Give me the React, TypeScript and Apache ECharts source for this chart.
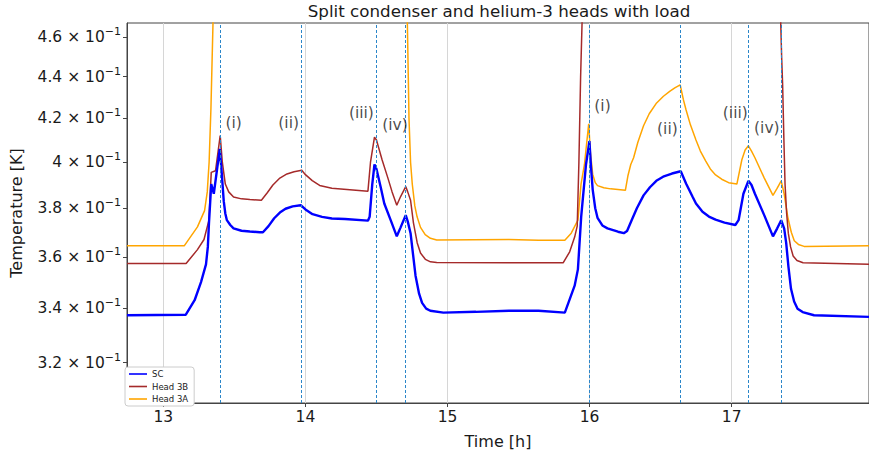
import React, { useEffect, useRef } from 'react';
import * as echarts from 'echarts';

// ---- data (time in hours, temperature in K) ----
const scTime = [12.744, 13.158, 13.22, 13.265, 13.30, 13.313, 13.321, 13.337, 13.355, 13.397, 13.41, 13.425, 13.436, 13.447, 13.471, 13.494, 13.55, 13.609, 13.679, 13.701, 13.74, 13.78, 13.82, 13.86, 13.91, 13.967, 14.00, 14.05, 14.117, 14.186, 14.278, 14.440, 14.452, 14.47, 14.486, 14.50, 14.53, 14.555, 14.60, 14.643, 14.67, 14.706, 14.72, 14.74, 14.775, 14.80, 14.821, 14.85, 14.879, 14.971, 15.2, 15.433, 15.641, 15.826, 15.895, 15.918, 15.941, 15.975, 15.999, 16.01, 16.022, 16.04, 16.056, 16.09, 16.126, 16.20, 16.241, 16.264, 16.30, 16.333, 16.38, 16.425, 16.47, 16.518, 16.58, 16.642, 16.68, 16.726, 16.749, 16.795, 16.84, 16.887, 16.95, 17.026, 17.049, 17.083, 17.118, 17.14, 17.164, 17.23, 17.291, 17.32, 17.349, 17.37, 17.384, 17.40, 17.418, 17.44, 17.464, 17.50, 17.58, 17.967];
const scTemp = [0.3373, 0.3375, 0.3430, 0.3500, 0.3570, 0.3640, 0.3737, 0.3904, 0.3862, 0.4060, 0.3960, 0.3830, 0.3778, 0.3750, 0.3730, 0.3716, 0.3706, 0.3703, 0.3700, 0.3700, 0.3725, 0.3758, 0.3782, 0.3798, 0.3808, 0.3813, 0.3795, 0.3775, 0.3764, 0.3757, 0.3755, 0.3748, 0.3764, 0.3900, 0.3990, 0.3970, 0.3890, 0.3820, 0.3750, 0.3683, 0.3720, 0.3771, 0.3745, 0.3696, 0.3525, 0.3455, 0.3420, 0.3398, 0.3390, 0.3383, 0.3386, 0.3390, 0.3390, 0.3383, 0.3486, 0.3550, 0.3764, 0.3990, 0.4095, 0.3980, 0.3880, 0.3800, 0.3760, 0.3728, 0.3716, 0.3702, 0.3696, 0.3705, 0.3755, 0.3800, 0.3855, 0.3890, 0.3918, 0.3936, 0.3950, 0.3960, 0.3905, 0.3848, 0.3820, 0.3785, 0.3765, 0.3752, 0.3740, 0.3730, 0.3750, 0.3862, 0.3918, 0.3900, 0.3862, 0.3770, 0.3683, 0.3715, 0.3750, 0.3715, 0.3656, 0.3560, 0.3474, 0.3425, 0.3398, 0.3385, 0.3373, 0.3367];

const head3bTime = [12.744, 13.16, 13.240, 13.286, 13.321, 13.337, 13.367, 13.400, 13.415, 13.436, 13.46, 13.494, 13.55, 13.609, 13.690, 13.73, 13.771, 13.82, 13.87, 13.92, 13.974, 14.00, 14.048, 14.10, 14.186, 14.440, 14.458, 14.486, 14.50, 14.54, 14.579, 14.61, 14.643, 14.67, 14.706, 14.72, 14.740, 14.76, 14.787, 14.81, 14.844, 14.88, 14.924, 15.433, 15.641, 15.814, 15.860, 15.895, 15.913, 15.925, 15.937, 15.950, 15.970, 16.200, 17.200, 17.330, 17.345, 17.352, 17.359, 17.368, 17.376, 17.387, 17.399, 17.415, 17.433, 17.46, 17.503, 17.967];
const head3bTemp = [0.3573, 0.3573, 0.3629, 0.3670, 0.3750, 0.3955, 0.3962, 0.4120, 0.4000, 0.3904, 0.3870, 0.3848, 0.3840, 0.3837, 0.3834, 0.3865, 0.3900, 0.3930, 0.3948, 0.3958, 0.3964, 0.3945, 0.3919, 0.3898, 0.3886, 0.3873, 0.4000, 0.4113, 0.4100, 0.4010, 0.3933, 0.3870, 0.3813, 0.3850, 0.3893, 0.3870, 0.3834, 0.3740, 0.3656, 0.3615, 0.3590, 0.3580, 0.3577, 0.3576, 0.3576, 0.3576, 0.3620, 0.3680, 0.3725, 0.4000, 0.4400, 0.4750, 0.5500, 0.6000, 0.6000, 0.5200, 0.4690, 0.4500, 0.4361, 0.4100, 0.3904, 0.3780, 0.3696, 0.3640, 0.3603, 0.3585, 0.3576, 0.3570];

const head3aTime = [12.744, 13.148, 13.240, 13.290, 13.309, 13.322, 13.335, 13.350, 13.370, 13.500, 14.600, 14.700, 14.717, 14.724, 14.729, 14.740, 14.752, 14.77, 14.786, 14.81, 14.843, 14.88, 14.924, 15.433, 15.641, 15.826, 15.871, 15.918, 15.940, 15.964, 15.994, 16.005, 16.022, 16.04, 16.056, 16.10, 16.148, 16.252, 16.27, 16.29, 16.310, 16.34, 16.380, 16.42, 16.472, 16.52, 16.564, 16.60, 16.638, 16.66, 16.679, 16.71, 16.749, 16.78, 16.818, 16.85, 16.887, 16.93, 16.979, 17.037, 17.072, 17.095, 17.118, 17.14, 17.164, 17.23, 17.291, 17.32, 17.349, 17.37, 17.395, 17.42, 17.441, 17.47, 17.510, 17.967];
const head3aTemp = [0.3645, 0.3645, 0.3722, 0.3790, 0.3870, 0.4000, 0.4250, 0.4690, 0.5200, 0.6000, 0.6000, 0.5200, 0.4690, 0.4400, 0.4200, 0.4000, 0.3904, 0.3810, 0.3764, 0.3720, 0.3690, 0.3675, 0.3668, 0.3670, 0.3667, 0.3667, 0.3696, 0.3750, 0.3904, 0.3990, 0.4175, 0.4050, 0.3947, 0.3910, 0.3897, 0.3888, 0.3883, 0.3877, 0.3940, 0.3990, 0.4020, 0.4090, 0.4166, 0.4222, 0.4273, 0.4305, 0.4328, 0.4345, 0.4360, 0.4290, 0.4241, 0.4170, 0.4100, 0.4050, 0.4005, 0.3970, 0.3944, 0.3925, 0.3910, 0.3904, 0.4011, 0.4055, 0.4074, 0.4050, 0.4020, 0.3930, 0.3855, 0.3885, 0.3918, 0.3860, 0.3764, 0.3700, 0.3665, 0.3650, 0.3642, 0.3645];

const eventTimes = [13.397, 13.972, 14.500, 14.700, 16.000, 16.642, 17.120, 17.351];

const annLabels = ['(i)', '(ii)', '(iii)', '(iv)', '(i)', '(ii)', '(iii)', '(iv)'];
const annTime = [13.495, 13.882, 14.394, 14.630, 16.091, 16.548, 17.026, 17.248];
const annTemp = [0.4178, 0.4178, 0.4224, 0.4169, 0.4257, 0.4150, 0.4224, 0.4155];

const xTicks = [13, 14, 15, 16, 17];
const yTicks = [0.32, 0.34, 0.36, 0.38, 0.40, 0.42, 0.44, 0.46];

const FONT = 'DejaVu Sans';
const TXT = '#1a1a1a';
const EVENT_COLOR = '#2b86c9';

function pairs(t: number[], v: number[]) {
  return t.map((x, i) => [x, v[i]]);
}

export default function App() {
  const ref = useRef<HTMLDivElement>(null);
  useEffect(() => {
    if (!ref.current) return;
    const chart = echarts.init(ref.current, null, { renderer: 'svg' });
    const eventStyle = { type: [3, 2], color: EVENT_COLOR, width: 1, opacity: 1 };
    const option: any = {
      animation: false,
      backgroundColor: '#ffffff',
      title: {
        text: 'Split condenser and helium-3 heads with load',
        left: 499,
        top: 2,
        padding: 0,
        textAlign: 'center',
        textStyle: { fontFamily: FONT, fontSize: 16.7, fontWeight: 'normal', color: TXT },
      },
      legend: {
        data: ['SC', 'Head 3B', 'Head 3A'],
        orient: 'vertical',
        left: 125,
        top: 367,
        icon: 'rect',
        itemWidth: 18,
        itemHeight: 1.6,
        itemGap: 2.5,
        padding: [2, 6, 2, 4],
        borderColor: '#cccccc',
        borderWidth: 1,
        borderRadius: 3,
        backgroundColor: '#ffffff',
        textStyle: { fontFamily: FONT, fontSize: 8.5, color: TXT, lineHeight: 10 },
      },
      grid: {
        left: 122,
        right: -7,
        top: 23,
        bottom: 45,
        show: true,
        borderColor: '#444444',
        borderWidth: 1,
        containLabel: false,
      },
      xAxis: {
        type: 'value',
        min: 12.744,
        max: 17.967,
        name: 'Time [h]',
        nameLocation: 'middle',
        nameGap: 30,
        nameTextStyle: { fontFamily: FONT, fontSize: 16, color: TXT },
        axisLine: { show: true, lineStyle: { color: '#444444', width: 1 } },
        axisTick: { show: true, length: 4, lineStyle: { color: '#444444' }, customValues: xTicks },
        axisLabel: { customValues: xTicks, fontFamily: FONT, fontSize: 15.5, color: TXT, margin: 6 },
        splitLine: { show: true, lineStyle: { color: '#d6d6d6', width: 1 } },
      },
      yAxis: {
        type: 'log',
        logBase: 10,
        min: 0.3059,
        max: 0.4671,
        name: 'Temperature [K]',
        nameLocation: 'middle',
        nameGap: 103,
        nameTextStyle: { fontFamily: FONT, fontSize: 16, color: TXT },
        axisLine: { show: true, lineStyle: { color: '#444444', width: 1 } },
        axisTick: { show: true, length: 4, lineStyle: { color: '#444444' }, customValues: yTicks },
        minorTick: { show: false },
        splitLine: { show: false },
        minorSplitLine: { show: false },
        axisLabel: {
          customValues: yTicks,
          margin: 6,
          formatter: (v: number) => {
            const m = Math.round(v * 100) / 10;
            const s = Number.isInteger(m) ? String(m) : m.toFixed(1);
            return `{m|${s} × 10}{e|−1}`;
          },
          rich: {
            m: { fontFamily: FONT, fontSize: 15.5, color: TXT, lineHeight: 22 },
            e: { fontFamily: FONT, fontSize: 11, color: TXT, verticalAlign: 'top', lineHeight: 12 },
          },
        },
      },
      series: [
        {
          name: 'SC',
          type: 'line',
          data: pairs(scTime, scTemp),
          showSymbol: false,
          symbol: 'none',
          color: '#0000ff',
          lineStyle: { color: '#0000ff', width: 2.4 },
          z: 3,
        },
        {
          name: 'Head 3B',
          type: 'line',
          data: pairs(head3bTime, head3bTemp),
          showSymbol: false,
          symbol: 'none',
          color: '#a52a2a',
          lineStyle: { color: '#a52a2a', width: 1.5 },
          z: 2,
        },
        {
          name: 'Head 3A',
          type: 'line',
          data: pairs(head3aTime, head3aTemp),
          showSymbol: false,
          symbol: 'none',
          color: '#ffa500',
          lineStyle: { color: '#ffa500', width: 1.5 },
          z: 1,
        },
        {
          name: 'events',
          type: 'line',
          data: [],
          z: 4,
          markLine: {
            silent: true,
            symbol: ['none', 'none'],
            label: { show: false },
            emphasis: { disabled: true },
            lineStyle: eventStyle,
            data: eventTimes.map((t) => ({ xAxis: t, lineStyle: eventStyle })),
          },
        },
        {
          name: 'annotations',
          type: 'scatter',
          silent: true,
          symbolSize: 1,
          itemStyle: { color: 'rgba(0,0,0,0)' },
          data: annTime.map((t, i) => ({ value: [t, annTemp[i]], name: annLabels[i] })),
          label: {
            show: true,
            position: 'inside',
            formatter: '{b}',
            fontFamily: FONT,
            fontSize: 15.5,
            color: TXT,
          },
          z: 5,
        },
      ],
    };
    chart.setOption(option);
    return () => chart.dispose();
  }, []);
  return (
    <div
      ref={ref}
      style={{ position: 'fixed', left: 0, top: 0, width: 869, height: 454, background: '#fff' }}
    />
  );
}
